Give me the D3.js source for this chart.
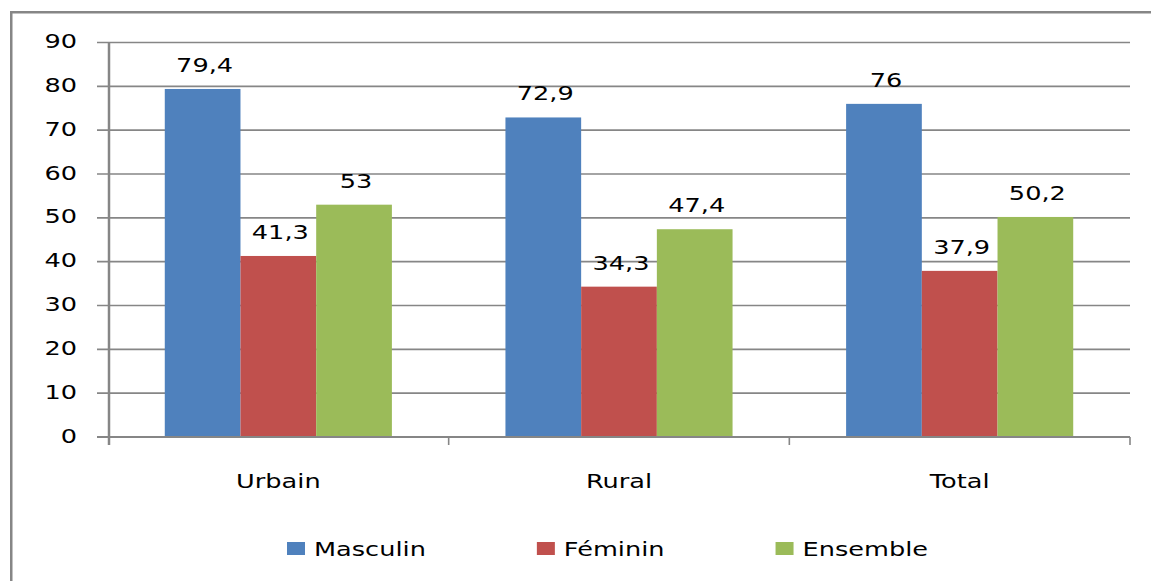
<!DOCTYPE html>
<html>
<head>
<meta charset="utf-8">
<script src="https://cdn.jsdelivr.net/npm/d3@7"></script>
<style>
  html, body { margin: 0; padding: 0; background: #fff; }
  svg { display: block; }
  text { font-family: "DejaVu Sans", Verdana, sans-serif; fill: #000; }
</style>
</head>
<body>
<svg id="chart" width="1151" height="581"></svg>
<script>
const categories = ["Urbain", "Rural", "Total"];
const series = ["Masculin", "Féminin", "Ensemble"];
const masculin = [79.4, 72.9, 76];
const feminin = [41.3, 34.3, 37.9];
const ensemble = [53, 47.4, 50.2];
const valueLabels = [["79,4", "72,9", "76"], ["41,3", "34,3", "37,9"], ["53", "47,4", "50,2"]];
const yTicks = [0, 10, 20, 30, 40, 50, 60, 70, 80, 90];
const colors = ["#4F81BD", "#C0504D", "#9BBB59"];

const seriesValues = [masculin, feminin, ensemble];
const SX = 1.28;          // horizontal text stretch seen in the reference
const FS = 20;
const gridColor = "#868686";

const svg = d3.select("#chart");

// outer chart border (extends past right/bottom edges)
svg.append("rect")
  .attr("x", 11.25).attr("y", 12.25)
  .attr("width", 1200).attr("height", 650)
  .attr("fill", "none").attr("stroke", gridColor).attr("stroke-width", 2.5);

const x0 = d3.scaleBand().domain(categories).range([108, 1130]).paddingInner(0).paddingOuter(0);
const x1 = d3.scaleBand().domain(series).range([0, x0.bandwidth()]).paddingInner(0).paddingOuter(0.75);
const y = d3.scaleLinear().domain([0, 90]).range([437, 42.5]);

// gridlines + tick marks
svg.append("g").selectAll("line").data(yTicks.filter(t => t > 0)).join("line")
  .attr("x1", 97).attr("x2", 1130)
  .attr("y1", d => y(d)).attr("y2", d => y(d))
  .attr("stroke", gridColor).attr("stroke-width", 1.6);

// y tick labels
svg.append("g").selectAll("text").data(yTicks).join("text")
  .attr("text-anchor", "end")
  .attr("font-size", FS)
  .attr("transform", d => `translate(77,${y(d) + 5.5}) scale(${SX},1)`)
  .text(d => d);

// bars
const groups = svg.append("g").selectAll("g").data(categories).join("g")
  .attr("transform", c => `translate(${x0(c)},0)`);

groups.selectAll("rect").data((c, ci) => series.map((s, si) => ({ s, si, v: seriesValues[si][ci] })))
  .join("rect")
  .attr("x", d => x1(d.s))
  .attr("width", x1.bandwidth())
  .attr("y", d => y(d.v))
  .attr("height", d => y(0) - y(d.v))
  .attr("fill", d => colors[d.si]);

groups.selectAll("text").data((c, ci) => series.map((s, si) => ({ s, si, v: seriesValues[si][ci], l: valueLabels[si][ci] })))
  .join("text")
  .attr("text-anchor", "middle")
  .attr("font-size", FS)
  .attr("transform", d => `translate(${x1(d.s) + x1.bandwidth() / 2 + 2},${y(d.v) - 17}) scale(${SX},1)`)
  .text(d => d.l);

// y axis line
svg.append("line").attr("x1", 109).attr("x2", 109).attr("y1", y(90)).attr("y2", 445)
  .attr("stroke", gridColor).attr("stroke-width", 2.5);
// x axis line
svg.append("line").attr("x1", 97).attr("x2", 1130).attr("y1", y(0)).attr("y2", y(0))
  .attr("stroke", gridColor).attr("stroke-width", 1.8);
// category ticks
const bounds = categories.map(c => x0(c) + x0.bandwidth());
svg.append("g").selectAll("line").data(bounds).join("line")
  .attr("x1", d => d).attr("x2", d => d)
  .attr("y1", y(0)).attr("y2", 445)
  .attr("stroke", gridColor).attr("stroke-width", 1.6);

// category labels
svg.append("g").selectAll("text").data(categories).join("text")
  .attr("text-anchor", "middle")
  .attr("font-size", FS)
  .attr("transform", c => `translate(${x0(c) + x0.bandwidth() / 2},488) scale(${SX},1)`)
  .text(c => c);

// legend
const legend = svg.append("g");
let lx = 287;
series.forEach((s, i) => {
  legend.append("rect").attr("x", lx).attr("y", 542).attr("width", 18).attr("height", 13).attr("fill", colors[i]);
  const t = legend.append("text")
    .attr("font-size", FS)
    .attr("transform", `translate(${lx + 27},556) scale(${SX},1)`)
    .text(s);
  const w = t.node().getComputedTextLength() * SX;
  lx = lx + 27 + w + 111;
});
</script>
</body>
</html>
